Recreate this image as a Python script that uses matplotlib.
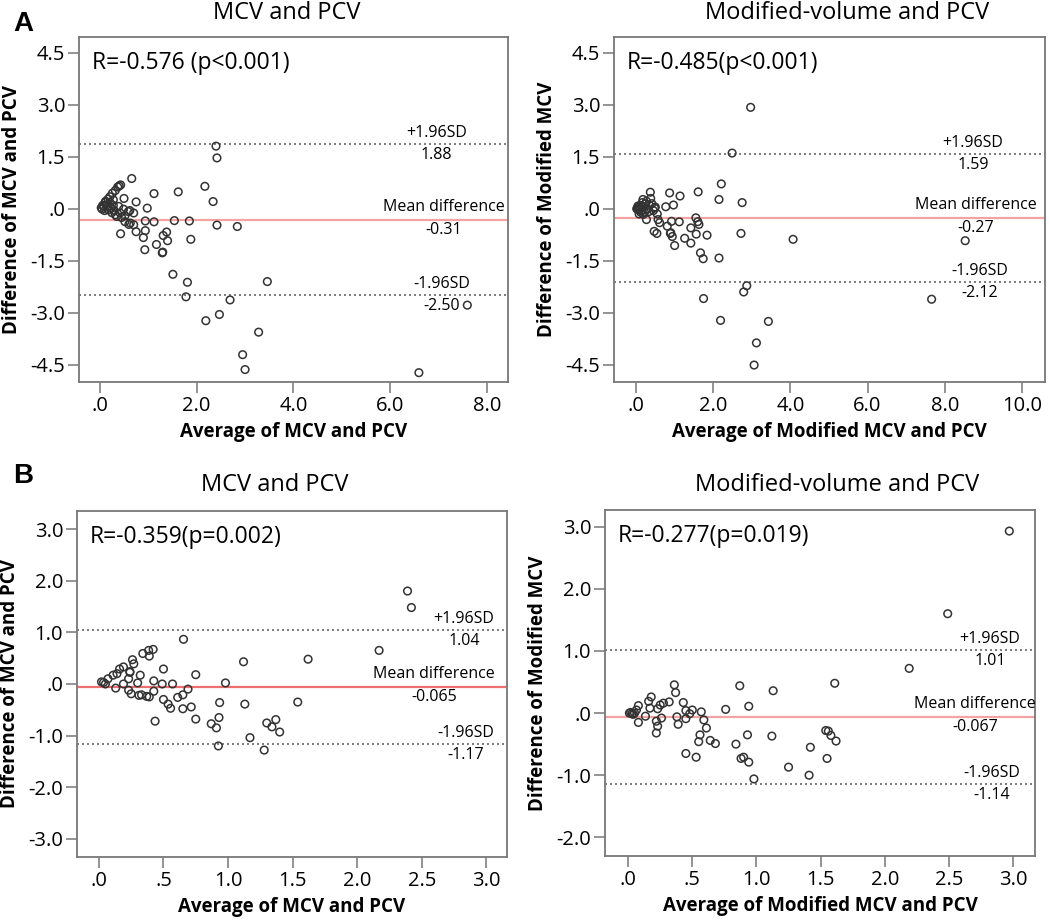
import numpy as np
import matplotlib
matplotlib.use('Agg')
import matplotlib.pyplot as plt

plt.rcParams['font.family'] = ['Open Sans', 'DejaVu Sans']

# ---- panel A, left: MCV vs PCV ----
a1_x = [2.40, 2.42, 0.66, 2.17, 1.62, 1.12, 2.34, 0.75, 0.50, 0.98, 0.94, 1.12, 1.54, 1.85,
        2.42, 2.84, 0.75, 0.94, 0.90, 0.43, 1.38, 1.31, 1.40, 1.88, 1.17, 0.93, 1.29, 1.30,
        1.51, 1.81, 3.46, 1.78, 2.69, 7.59, 2.47, 2.19, 3.28, 2.95, 3.00, 6.59,
        0.43, 0.40, 0.37, 0.32, 0.26, 0.21, 0.17, 0.11, 0.08, 0.05, 0.03, 0.06, 0.14, 0.21,
        0.28, 0.18, 0.25, 0.32, 0.39, 0.49, 0.59, 0.70, 0.42, 0.52, 0.52, 0.63, 0.70, 0.60,
        0.12, 0.15, 0.10, 0.22, 0.30, 0.35, 0.45, 0.28, 0.62]
a1_y = [1.81, 1.47, 0.875, 0.65, 0.49, 0.44, 0.21, 0.20, 0.30, 0.02, -0.35, -0.375, -0.34, -0.35,
        -0.47, -0.51, -0.66, -0.63, -0.83, -0.72, -0.67, -0.77, -0.92, -0.88, -1.03, -1.18, -1.27, -1.25,
        -1.89, -2.12, -2.10, -2.54, -2.63, -2.78, -3.05, -3.23, -3.56, -4.21, -4.64, -4.73,
        0.69, 0.66, 0.63, 0.53, 0.45, 0.35, 0.28, 0.18, 0.07, -0.01, 0.03, 0.10, 0.115, 0.18,
        0.26, -0.03, -0.11, -0.17, 0.07, -0.01, -0.08, -0.12, -0.12, -0.20, -0.37, -0.41, -0.46, -0.45,
        0.22, 0.05, -0.05, 0.02, -0.05, -0.22, -0.25, 0.10, -0.05]

# ---- panel A, right: modified MCV vs PCV ----
a2_x = [2.97, 2.49, 2.21, 2.15, 2.75, 1.61, 1.14, 0.87, 0.37, 0.97, 0.77, 2.72, 4.07, 8.53,
        1.55, 1.60, 1.63, 1.12, 0.92, 1.42, 1.56, 1.84, 1.26, 1.42, 1.00, 0.89, 0.94, 0.47,
        0.54, 1.67, 1.74, 2.15, 2.87, 2.79, 1.75, 7.66, 2.19, 3.43, 3.12, 3.06,
        0.02, 0.04, 0.06, 0.08, 0.05, 0.10, 0.12, 0.14, 0.16, 0.18, 0.10, 0.20, 0.22, 0.25,
        0.27, 0.30, 0.33, 0.35, 0.38, 0.41, 0.45, 0.48, 0.27, 0.19, 0.57, 0.61, 0.55, 0.50,
        0.08, 0.12, 0.81, 0.90, 0.03, 0.07]
a2_y = [2.93, 1.61, 0.72, 0.27, 0.18, 0.49, 0.37, 0.46, 0.48, 0.11, 0.06, -0.71, -0.88, -0.92,
        -0.26, -0.37, -0.45, -0.375, -0.36, -0.55, -0.73, -0.76, -0.85, -0.99, -1.06, -0.71, -0.80, -0.65,
        -0.71, -1.27, -1.44, -1.42, -2.22, -2.40, -2.59, -2.61, -3.22, -3.25, -3.87, -4.51,
        0.00, 0.02, -0.02, 0.05, 0.08, 0.00, 0.10, -0.05, 0.18, 0.27, 0.03, 0.05, -0.10, 0.15,
        0.22, 0.00, -0.08, 0.10, 0.30, 0.15, -0.05, 0.02, -0.31, -0.16, -0.31, -0.40, -0.15, 0.05,
        -0.15, -0.10, -0.50, -0.69, 0.01, -0.03]

# ---- panel B, left ----
b1_x = [2.39, 2.42, 2.17, 1.62, 0.655, 1.12, 0.75, 0.98, 1.54, 1.13, 0.935, 0.93, 0.75, 0.87,
        0.91, 0.925, 1.17, 1.28, 1.30, 1.37, 1.34, 1.40, 0.435, 0.715, 0.65, 0.69, 0.65, 0.61,
        0.555, 0.536, 0.50, 0.57, 0.49, 0.50, 0.425, 0.425, 0.39, 0.37, 0.33, 0.31, 0.32, 0.30,
        0.42, 0.39, 0.385, 0.34, 0.27, 0.26, 0.24, 0.23, 0.25, 0.23, 0.19, 0.19, 0.16, 0.14,
        0.11, 0.13, 0.07, 0.036, 0.05, 0.02, 0.24]
b1_y = [1.80, 1.48, 0.65, 0.48, 0.865, 0.43, 0.18, 0.02, -0.35, -0.39, -0.36, -0.65, -0.68, -0.77,
        -0.85, -1.20, -1.04, -1.28, -0.755, -0.69, -0.83, -0.93, -0.72, -0.445, -0.48, -0.10, -0.21, -0.26,
        -0.47, -0.39, -0.30, 0.0, 0.0, 0.29, 0.06, -0.14, -0.25, -0.24, -0.21, -0.22, 0.17, 0.02,
        0.67, 0.54, 0.65, 0.59, 0.39, 0.47, 0.225, 0.10, -0.19, -0.12, 0.33, 0.0, 0.29, 0.20,
        0.17, -0.08, 0.10, 0.03, 0.0, 0.04, 0.24]

# ---- panel B, right ----
b2_x = [2.97, 2.49, 2.19, 1.61, 1.13, 0.87, 0.94, 0.76, 0.36, 0.37, 0.43, 0.32, 0.275, 0.25,
        0.18, 0.16, 0.17, 0.08, 0.065, 0.01, 0.03, 0.04, 0.08, 0.135, 0.22, 0.23, 0.22, 0.26,
        0.23, 0.38, 0.39, 0.45, 0.45, 0.50, 0.48, 0.57, 0.59, 0.61, 0.56, 0.55, 0.64, 0.68,
        0.84, 0.45, 0.53, 0.88, 0.90, 0.94, 0.93, 1.12, 0.98, 1.25, 1.42, 1.41, 1.54, 1.56,
        1.58, 1.62, 1.55, 0.02, 0.05]
b2_y = [2.93, 1.60, 0.72, 0.48, 0.36, 0.44, 0.11, 0.06, 0.455, 0.33, 0.17, 0.18, 0.16, 0.13,
        0.26, 0.19, 0.08, 0.12, 0.05, 0.0, -0.01, -0.02, -0.15, -0.05, -0.13, -0.21, -0.32, -0.08,
        0.07, -0.06, -0.18, 0.04, -0.09, 0.05, -0.01, 0.02, -0.11, -0.24, -0.35, -0.46, -0.44, -0.49,
        -0.50, -0.65, -0.71, -0.73, -0.71, -0.79, -0.35, -0.37, -1.06, -0.87, -0.55, -1.00, -0.28, -0.29,
        -0.36, -0.45, -0.73, 0.01, 0.0]

panels = [
    dict(x=a1_x, y=a1_y, upper=1.88, mean=-0.31, lower=-2.50,
         up_txt='1.88', mean_txt='-0.31', low_txt='-2.50',
         r_txt='R=-0.576 (p<0.001)', title='MCV and PCV',
         xlabel='Average of MCV and PCV', ylabel='Difference of MCV and PCV',
         xticks=[0, 2, 4, 6, 8], yticks=[-4.5, -3.0, -1.5, 0, 1.5, 3.0, 4.5],
         xlim=(-0.43, 8.43), ylim=(-5.0, 4.96),
         pos=[0.0752, 0.5852, 0.4086, 0.3746], sd_x=0.834, md_x=0.85, lo_x=0.846,
         title_xy=(287, 13), mean_color='#f4a3a3'),
    dict(x=a2_x, y=a2_y, upper=1.59, mean=-0.27, lower=-2.12,
         up_txt='1.59', mean_txt='-0.27', low_txt='-2.12',
         r_txt='R=-0.485(p<0.001)', title='Modified-volume and PCV',
         xlabel='Average of Modified MCV and PCV', ylabel='Difference of Modified MCV',
         xticks=[0, 2, 4, 6, 8, 10], yticks=[-4.5, -3.0, -1.5, 0, 1.5, 3.0, 4.5],
         xlim=(-0.57, 10.6), ylim=(-5.0, 4.96),
         pos=[0.5848, 0.5852, 0.4105, 0.3746], sd_x=0.833, md_x=0.84, lo_x=0.848,
         title_xy=(847, 13), mean_color='#f4a3a3'),
    dict(x=b1_x, y=b1_y, upper=1.04, mean=-0.065, lower=-1.17,
         up_txt='1.04', mean_txt='-0.065', low_txt='-1.17',
         r_txt='R=-0.359(p=0.002)', title='MCV and PCV',
         xlabel='Average of MCV and PCV', ylabel='Difference of MCV and PCV',
         xticks=[0, 0.5, 1.0, 1.5, 2.0, 2.5, 3.0], yticks=[-3.0, -2.0, -1.0, 0, 1.0, 2.0, 3.0],
         xlim=(-0.17, 3.16), ylim=(-3.35, 3.35),
         pos=[0.0733, 0.0695, 0.4095, 0.3757], sd_x=0.90, md_x=0.83, lo_x=0.905,
         title_xy=(275, 485), mean_color='#ee6f6f'),
    dict(x=b2_x, y=b2_y, upper=1.01, mean=-0.067, lower=-1.14,
         up_txt='1.01', mean_txt='-0.067', low_txt='-1.14',
         r_txt='R=-0.277(p=0.019)', title='Modified-volume and PCV',
         xlabel='Average of Modified MCV and PCV', ylabel='Difference of Modified MCV',
         xticks=[0, 0.5, 1.0, 1.5, 2.0, 2.5, 3.0], yticks=[-2.0, -1.0, 0, 1.0, 2.0, 3.0],
         xlim=(-0.18, 3.17), ylim=(-2.3, 3.27),
         pos=[0.5762, 0.0706, 0.4095, 0.3757], sd_x=0.895, md_x=0.86, lo_x=0.90,
         title_xy=(837, 485), mean_color='#f4a3a3'),
]


def fmt(v):
    s = '%.1f' % v
    if s.startswith('0'):
        s = s[1:]
    return s


W, H = 1050, 921
fig = plt.figure(figsize=(W / 100, H / 100), dpi=100)

for p in panels:
    ax = fig.add_axes(p['pos'])
    ax.scatter(p['x'], p['y'], s=30, facecolors='none', edgecolors='#333333', linewidths=1.1, zorder=3)
    ax.axhline(p['upper'], color='#666666', linestyle=(0, (1.2, 1.8)), lw=1.2)
    ax.axhline(p['lower'], color='#666666', linestyle=(0, (1.2, 1.8)), lw=1.2)
    ax.axhline(p['mean'], color=p['mean_color'], lw=1.6)

    ax.set_xlim(*p['xlim'])
    ax.set_ylim(*p['ylim'])
    ax.set_xticks(p['xticks'])
    ax.set_xticklabels([fmt(v) for v in p['xticks']])
    ax.set_yticks(p['yticks'])
    ax.set_yticklabels([fmt(v) for v in p['yticks']])
    ax.tick_params(direction='out', length=8, width=1.1, color='#777777', labelsize=14.5, pad=2)
    for sp in ax.spines.values():
        sp.set_color('#777777')
        sp.set_linewidth(1.3)

    ax.set_xlabel(p['xlabel'], fontsize=13.5, fontweight='bold', va='center')
    ax.xaxis.set_label_coords(0.5, -0.145)
    ax.set_ylabel(p['ylabel'], fontsize=13.5, fontweight='bold', va='center')
    ax.yaxis.set_label_coords(-0.155, 0.5)

    ax.text(0.03, 0.925, p['r_txt'], transform=ax.transAxes, fontsize=16.5, va='center', ha='left')

    tr = ax.get_yaxis_transform()
    ax.annotate('+1.96SD', (p['sd_x'], p['upper']), xycoords=tr, xytext=(0, 11),
                textcoords='offset pixels', ha='center', va='center', fontsize=11.5)
    ax.annotate(p['up_txt'], (p['sd_x'], p['upper']), xycoords=tr, xytext=(0, -11),
                textcoords='offset pixels', ha='center', va='center', fontsize=11.5)
    ax.annotate('Mean difference', (p['md_x'], p['mean']), xycoords=tr, xytext=(0, 13),
                textcoords='offset pixels', ha='center', va='center', fontsize=11.5)
    ax.annotate(p['mean_txt'], (p['md_x'], p['mean']), xycoords=tr, xytext=(0, -10),
                textcoords='offset pixels', ha='center', va='center', fontsize=11.5)
    ax.annotate('-1.96SD', (p['lo_x'], p['lower']), xycoords=tr, xytext=(0, 11),
                textcoords='offset pixels', ha='center', va='center', fontsize=11.5)
    ax.annotate(p['low_txt'], (p['lo_x'], p['lower']), xycoords=tr, xytext=(0, -11),
                textcoords='offset pixels', ha='center', va='center', fontsize=11.5)

    fig.text(p['title_xy'][0] / W, 1 - p['title_xy'][1] / H, p['title'],
             fontsize=17, ha='center', va='center')

fig.text(23 / W, 1 - 24 / H, 'A', fontsize=20, fontweight='bold', ha='center', va='center',
         family=['Liberation Sans', 'DejaVu Sans'])
fig.text(23 / W, 1 - 476 / H, 'B', fontsize=20, fontweight='bold', ha='center', va='center',
         family=['Liberation Sans', 'DejaVu Sans'])

fig.savefig('out.png', dpi=100)
